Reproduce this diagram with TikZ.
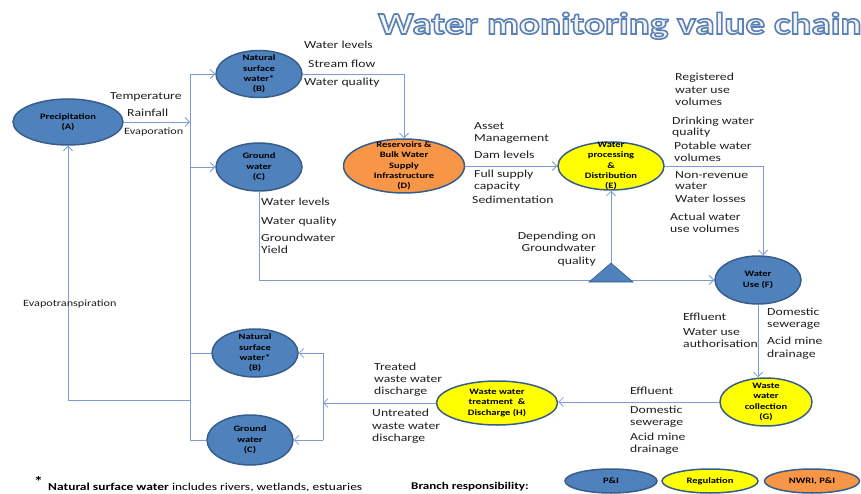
\documentclass[tikz,border=0pt]{standalone}
\usepackage{fontspec}
\setmainfont{Carlito}[FakeStretch=1.27]
\usetikzlibrary{shapes.geometric,arrows.meta}
\definecolor{pblue}{HTML}{4F81BD}
\definecolor{pborder}{HTML}{385D8A}
\definecolor{pyellow}{HTML}{FFFF00}
\definecolor{porange}{HTML}{F79646}
\definecolor{lineblue}{HTML}{7C9BD0}
\definecolor{titleedge}{HTML}{5A80B8}
\definecolor{titlefill}{HTML}{F4F4EC}
\tikzset{
  ell/.style={ellipse, draw=pborder, line width=1.5pt, inner sep=0pt},
  ntxt/.style={font=\fontsize{8.3}{10.3}\selectfont\bfseries, align=center, inner sep=0pt, text=black},
  lbl/.style={font=\fontsize{10.8}{12}\selectfont, anchor=mid west, inner sep=0pt, text=black!88},
  lblr/.style={lbl, anchor=mid east},
  lbls/.style={lbl, font=\fontsize{9.6}{12}\selectfont},
  conn/.style={draw=lineblue, line width=0.8pt},
  arr/.style={conn, -{Straight Barb[length=4.5pt,width=9pt]}},
  ttl/.style={font=\fontsize{30.9}{32}\selectfont\bfseries, anchor=base west, inner sep=0pt},
}
\begin{document}
\begin{tikzpicture}[x=1pt,y=-1pt]
\useasboundingbox (0,0) rectangle (861,494);

% title (outlined text: fill + stroke)
\node[ttl, text=titlefill] (title) at (378,34) {\special{pdf:code 2 Tr 1.6 w 0.353 0.502 0.722 RG}Water monitoring value chain\special{pdf:code 0 Tr}};

% ellipses
\node[ell, fill=pblue, minimum width=110pt, minimum height=46pt] (A) at (68,122) {};
\node[ntxt] (At) at (A) {Precipitation\\(A)};
\node[ell, fill=pblue, minimum width=86pt, minimum height=47pt] (B1) at (259,74) {};
\node[ntxt] (B1t) at (B1) {Natural\\surface\\water*\\(B)};
\node[ell, fill=pblue, minimum width=86pt, minimum height=48pt] (C1) at (259,167) {};
\node[ntxt] (C1t) at (C1) {Ground\\water\\(C)};
\node[ell, fill=porange, minimum width=121pt, minimum height=54pt] (D) at (404,166) {};
\node[ntxt] (Dt) at (D) {Reservoirs \&\\Bulk Water\\Supply\\Infrastructure\\(D)};
\node[ell, fill=pyellow, minimum width=106pt, minimum height=48pt] (E) at (611,166) {};
\node[ntxt] (Et) at (E) {Water\\processing\\\&\\Distribution\\(E)};
\node[ell, fill=pblue, minimum width=86pt, minimum height=48pt] (F) at (758,280) {};
\node[ntxt] (Ft) at (F) {Water\\Use (F)};
\node[ell, fill=pyellow, minimum width=92pt, minimum height=48pt] (G) at (766,402) {};
\node[ntxt] (Gt) at (G) {Waste\\water\\collection\\(G)};
\node[ell, fill=pyellow, minimum width=121pt, minimum height=44pt] (H) at (497,403) {};
\node[ntxt] (Ht) at (H) {Waste water\\treatment~~\&\\Discharge (H)};
\node[ell, fill=pblue, minimum width=86pt, minimum height=48pt] (B2) at (255,353) {};
\node[ntxt] (B2t) at (B2) {Natural\\surface\\water*\\(B)};
\node[ell, fill=pblue, minimum width=86pt, minimum height=50pt] (C2) at (250,440) {};
\node[ntxt] (C2t) at (C2) {Ground\\water\\(C)};

% coordinates
\coordinate (busA) at (190,122);
\coordinate (bt) at (190,74);
\coordinate (bc) at (190,167);
\coordinate (bb2) at (190,353);
\coordinate (bev) at (190,400);
\coordinate (bc2) at (190,440);
\coordinate (evl) at (68,400);
\coordinate (ef) at (763,166);
\coordinate (jh) at (323,403);
\coordinate (jt) at (323,353);
\coordinate (jb) at (323,440);
\coordinate (tri) at (611,263);

% connectors
\draw[conn] (bt) -- (bc2);
\draw[arr] (A.east) -- (busA);
\draw[arr] (bt) -- (B1);
\draw[arr] (bc) -- (C1);
\draw[conn] (bb2) -- (B2);
\draw[conn] (bc2) -- (C2);
\draw[arr] (bev) -- (evl) -- (A.south);
\draw[arr] (B1.east) -| (D.north);
\draw[arr] (D.east) -- (E.west);
\draw[arr] (E.east) -- (ef) -- (ef |- F.north);
\draw[arr] (C1.south) |- (F.west);
\draw[arr] (tri) -- (E.south);
\draw[arr] (F.south) -- (F.south |- G.north);
\draw[arr] (G.west) -- (G.west -| H.east);
\draw[arr] (H.west) -- (jh);
\draw[conn] (jt) -- (jb);
\draw[arr] (jt) -- (B2);
\draw[arr] (jb) -- (C2);

% triangle
\filldraw[fill=pblue, draw=pborder, line width=0.6pt] (589,282) -- (tri) -- (633,282) -- cycle;

% labels
\node[lbl] (l1) at (110,97) {Temperature};
\node[lbl] (l2) at (127,114) {Rainfall};
\node[lbls] (l3) at (124,132) {Evaporation};
\node[lbls] (l4) at (23,304) {Evapotranspiration};

\node[lbl] (l5) at (304,46) {Water levels};
\node[lbl] (l6) at (308,65) {Stream flow};
\node[lbl] (l7) at (304,83) {Water quality};

\node[lbl] (l8) at (474,127) {Asset};
\node[lbl] (l9) at (474,139) {Management};
\node[lbl] (l10) at (474,156) {Dam levels};
\node[lbl] (l11) at (474,175) {Full supply};
\node[lbl] (l12) at (474,187) {capacity};
\node[lbl] (l13) at (472,201) {Sedimentation};

\node[lbl] (l14) at (675,78) {Registered};
\node[lbl] (l15) at (675,91) {water use};
\node[lbl] (l16) at (675,103) {volumes};
\node[lbl] (l17) at (672,122) {Drinking water};
\node[lbl] (l18) at (672,133) {quality};
\node[lbl] (l19) at (674,147) {Potable water};
\node[lbl] (l20) at (674,159) {volumes};
\node[lbl] (l21) at (675,176) {Non-revenue};
\node[lbl] (l22) at (675,187) {water};
\node[lbl] (l23) at (675,200) {Water losses};
\node[lbl] (l24) at (670,218) {Actual water};
\node[lbl] (l25) at (670,230) {use volumes};

\node[lbl] (l26) at (261,203) {Water levels};
\node[lbl] (l27) at (261,222) {Water quality};
\node[lbl] (l28) at (261,239) {Groundwater};
\node[lbl] (l29) at (261,251) {Yield};

\node[lblr] (l30) at (596,237) {Depending on};
\node[lblr] (l31) at (596,249) {Groundwater};
\node[lblr] (l32) at (596,262) {quality};

\node[lbl] (l33) at (683,318) {Effluent};
\node[lbl] (l34) at (683,333) {Water use};
\node[lbl] (l35) at (683,345) {authorisation};
\node[lbl] (l36) at (767,313) {Domestic};
\node[lbl] (l37) at (767,325) {sewerage};
\node[lbl] (l38) at (767,342) {Acid mine};
\node[lbl] (l39) at (767,355) {drainage};

\node[lbl] (l40) at (630,392) {Effluent};
\node[lbl] (l41) at (630,411) {Domestic};
\node[lbl] (l42) at (630,423) {sewerage};
\node[lbl] (l43) at (630,438) {Acid mine};
\node[lbl] (l44) at (630,450) {drainage};

\node[lbl] (l45) at (374,368) {Treated};
\node[lbl] (l46) at (374,380) {waste water};
\node[lbl] (l47) at (374,392) {discharge};
\node[lbl] (l48) at (372,414) {Untreated};
\node[lbl] (l49) at (372,427) {waste water};
\node[lbl] (l50) at (372,439) {discharge};

% footnote and legend
\node[font=\fontsize{14}{14}\selectfont\bfseries, anchor=mid west, inner sep=0pt] (star) at (34,484) {*};
\node[font=\fontsize{10.6}{12}\selectfont, anchor=mid west, inner sep=0pt] (fn) at (48,488) {\textbf{Natural surface water} includes rivers, wetlands, estuaries};
\node[font=\fontsize{10.3}{12}\selectfont\bfseries, anchor=mid west, inner sep=0pt] (br) at (411,487) {Branch responsibility:};
\node[ell, fill=pblue, minimum width=92pt, minimum height=24pt] (LP) at (611,481) {};
\node[ntxt] (LPt) at (LP) {P\&I};
\node[ell, fill=pyellow, minimum width=96pt, minimum height=24pt] (LR) at (710,481) {};
\node[ntxt] (LRt) at (LR) {Regulation};
\node[ell, fill=porange, minimum width=95pt, minimum height=24pt] (LN) at (812,481) {};
\node[ntxt] (LNt) at (LN) {NWRI, P\&I};
\end{tikzpicture}
\end{document}
